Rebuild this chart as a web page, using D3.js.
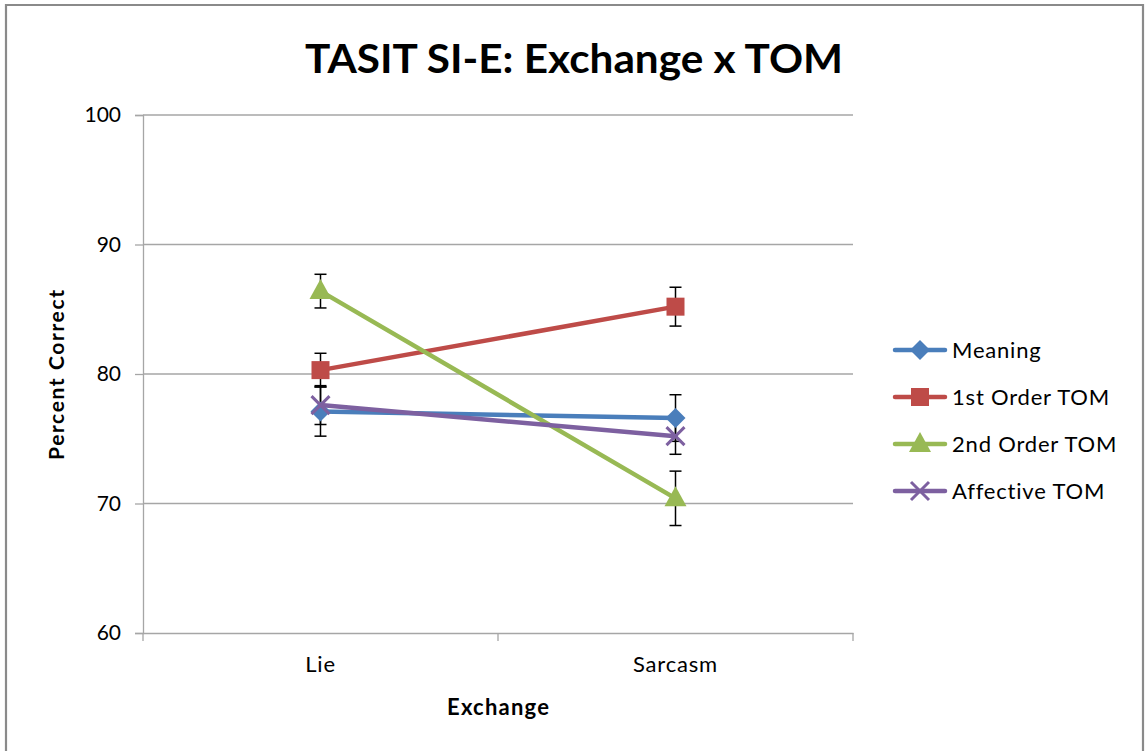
<!DOCTYPE html>
<html><head><meta charset="utf-8">
<script src="https://cdn.jsdelivr.net/npm/d3@7"></script>
<style>body{margin:0;background:#fff;}svg{display:block;}</style>
</head><body>
<svg id="chart" width="1146" height="751"></svg>
<script>
const categories = ["Lie", "Sarcasm"];
const seriesNames = ["Meaning", "1st Order TOM", "2nd Order TOM", "Affective TOM"];
const meaningValues = [77.1, 76.6];
const meaningErrors = [1.9, 1.8];
const firstOrderValues = [80.3, 85.2];
const firstOrderErrors = [1.3, 1.5];
const secondOrderValues = [86.4, 70.4];
const secondOrderErrors = [1.3, 2.1];
const affectiveValues = [77.6, 75.2];
const affectiveErrors = [1.5, 1.4];
const yTicks = [60, 70, 80, 90, 100];
const colors = ["#4a7ebb", "#be4b48", "#98b954", "#7d60a0"];
const markers = ["diamond", "square", "triangle", "cross"];

const series = [
  {name: seriesNames[0], values: meaningValues, errors: meaningErrors},
  {name: seriesNames[1], values: firstOrderValues, errors: firstOrderErrors},
  {name: seriesNames[2], values: secondOrderValues, errors: secondOrderErrors},
  {name: seriesNames[3], values: affectiveValues, errors: affectiveErrors}
];

const svg = d3.select("#chart");
const font = "Lato, 'Open Sans', sans-serif";

// outer border
svg.append("path").attr("d", "M6,751 V5 H1143 V751")
  .attr("fill", "none").attr("stroke", "#8a8a8a").attr("stroke-width", 2.2);

const plotLeft = 143, plotRight = 853, plotTop = 115, plotBottom = 633;
const x = d3.scaleBand().domain(categories).range([plotLeft, plotRight]);
const y = d3.scaleLinear().domain([60, 100]).range([plotBottom, plotTop]);

// gridlines
svg.append("g").selectAll("line").data(yTicks.filter(d => d > 60)).join("line")
  .attr("x1", plotLeft).attr("x2", plotRight)
  .attr("y1", d => y(d)).attr("y2", d => y(d))
  .attr("stroke", "#a6a6a6").attr("stroke-width", 1.3);

// y axis
const yAxis = svg.append("g").attr("transform", `translate(${plotLeft},0)`)
  .call(d3.axisLeft(y).tickValues(yTicks).tickSize(8).tickPadding(14));
yAxis.select(".domain").attr("stroke", "#a6a6a6").attr("stroke-width", 1.3);
yAxis.selectAll(".tick line").attr("stroke", "#a6a6a6").attr("stroke-width", 1.3);
yAxis.selectAll(".tick text").attr("font-family", font).attr("font-size", 21).attr("fill", "#000");

// x axis
const xAxis = svg.append("g").attr("transform", `translate(0,${plotBottom})`)
  .call(d3.axisBottom(x).tickSize(0).tickPadding(23));
xAxis.select(".domain").attr("stroke", "#a6a6a6").attr("stroke-width", 1.3);
xAxis.selectAll(".tick text").attr("font-family", font).attr("font-size", 22)
  .attr("letter-spacing", 0.8).attr("fill", "#000");
const bounds = [plotLeft, plotLeft + x.bandwidth(), plotRight];
svg.append("g").selectAll("line").data(bounds).join("line")
  .attr("x1", d => d).attr("x2", d => d).attr("y1", plotBottom).attr("y2", plotBottom + 8)
  .attr("stroke", "#a6a6a6").attr("stroke-width", 1.3);

// titles
svg.append("text").attr("x", 574).attr("y", 73).attr("text-anchor", "middle")
  .attr("font-family", font).attr("font-weight", "bold").attr("font-size", 40)
  .attr("textLength", 538).attr("lengthAdjust", "spacingAndGlyphs")
  .text("TASIT SI-E: Exchange x TOM");
svg.append("text").attr("transform", "translate(64,375) rotate(-90)").attr("text-anchor", "middle")
  .attr("font-family", font).attr("font-weight", "bold").attr("font-size", 21)
  .attr("textLength", 170).attr("lengthAdjust", "spacing")
  .text("Percent Correct");
svg.append("text").attr("x", 498).attr("y", 715).attr("text-anchor", "middle")
  .attr("font-family", font).attr("font-weight", "bold").attr("font-size", 22)
  .attr("textLength", 102).attr("lengthAdjust", "spacing")
  .text("Exchange");

const cx = c => x(c) + x.bandwidth() / 2;
const line = d3.line().x(d => cx(d.c)).y(d => y(d.v));

function drawMarker(g, type, color, px, py) {
  if (type === "diamond") {
    g.append("path").attr("d", `M${px},${py-10}L${px+10},${py}L${px},${py+10}L${px-10},${py}Z`).attr("fill", color);
  } else if (type === "square") {
    g.append("rect").attr("x", px-9).attr("y", py-9).attr("width", 18).attr("height", 18).attr("fill", color);
  } else if (type === "triangle") {
    g.append("path").attr("d", `M${px},${py-12}L${px+11},${py+8}L${px-11},${py+8}Z`).attr("fill", color);
  } else {
    g.append("path").attr("d", `M${px-9},${py-9}L${px+9},${py+9}M${px+9},${py-9}L${px-9},${py+9}`)
      .attr("stroke", color).attr("stroke-width", 3);
  }
}

// error bars
series.forEach(s => {
  const g = svg.append("g");
  categories.forEach((c, i) => {
    const px = cx(c), lo = y(s.values[i] - s.errors[i]), hi = y(s.values[i] + s.errors[i]);
    g.append("line").attr("x1", px).attr("x2", px).attr("y1", lo).attr("y2", hi).attr("stroke", "#000").attr("stroke-width", 1.5);
    [lo, hi].forEach(yy => g.append("line").attr("x1", px-6).attr("x2", px+6).attr("y1", yy).attr("y2", yy).attr("stroke", "#000").attr("stroke-width", 1.5));
  });
});

// lines and markers
series.forEach((s, k) => {
  const pts = categories.map((c, i) => ({c, v: s.values[i]}));
  svg.append("path").datum(pts).attr("d", line).attr("fill", "none")
    .attr("stroke", colors[k]).attr("stroke-width", 4.5).attr("stroke-linecap", "round");
  const g = svg.append("g");
  pts.forEach(p => drawMarker(g, markers[k], colors[k], cx(p.c), y(p.v)));
});

// legend
const legendY = [350, 397, 444, 491];
series.forEach((s, k) => {
  const g = svg.append("g");
  const ly = legendY[k];
  g.append("line").attr("x1", 895).attr("x2", 945).attr("y1", ly).attr("y2", ly)
    .attr("stroke", colors[k]).attr("stroke-width", 4.5).attr("stroke-linecap", "round");
  drawMarker(g, markers[k], colors[k], 920, ly);
  g.append("text").attr("x", 952).attr("y", ly + 8).attr("font-family", font).attr("font-size", 22)
    .attr("letter-spacing", 0.8).text(s.name);
});
</script>
</body></html>
